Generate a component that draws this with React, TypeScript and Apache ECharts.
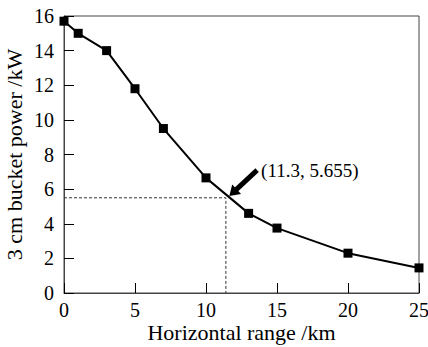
import React, { useEffect, useRef } from "react";
import * as echarts from "echarts";

const rangeKm = [0, 1, 3, 5, 7, 10, 13, 15, 20, 25];
const powerKW = [15.7, 15.0, 14.0, 11.8, 9.5, 6.65, 4.6, 3.75, 2.3, 1.45];
const markX = 11.4;
const markY = 5.5;
const arrowFrom = [13.6, 7.1];
const arrowTo = [11.9, 5.8];
const annotation = "(11.3, 5.655)";
const xTitle = "Horizontal range /km";
const yTitle = "3 cm bucket power /kW";

const FONT = "'Liberation Serif', 'DejaVu Serif', serif";

export default function App() {
  const ref = useRef<HTMLDivElement>(null);
  useEffect(() => {
    const chart = echarts.init(ref.current!, null, { renderer: "svg" });
    chart.setOption({
      animation: false,
      backgroundColor: "#ffffff",
      textStyle: { fontFamily: FONT },
      grid: {
        left: 64,
        right: 9,
        top: 16,
        bottom: 54,
        outerBoundsMode: "none",
        containLabel: false,
        show: true,
        borderColor: "#444",
        borderWidth: 1,
      },
      xAxis: {
        type: "value",
        min: 0,
        max: 25,
        interval: 5,
        name: xTitle,
        nameLocation: "middle",
        nameGap: 28,
        nameMoveOverlap: false,
        nameTextStyle: { fontFamily: FONT, fontSize: 22, color: "#000" },
        axisLine: { lineStyle: { color: "#444", width: 1 } },
        axisTick: { inside: true, length: 10, lineStyle: { color: "#000" } },
        axisLabel: { fontFamily: FONT, fontSize: 20, color: "#000", margin: 7 },
        splitLine: { show: false },
      },
      yAxis: {
        type: "value",
        min: 0,
        max: 16,
        interval: 2,
        name: yTitle,
        nameLocation: "middle",
        nameGap: 39,
        nameMoveOverlap: false,
        nameTextStyle: { fontFamily: FONT, fontSize: 22, color: "#000" },
        axisLine: { show: true, lineStyle: { color: "#444", width: 1 } },
        axisTick: { show: true, inside: true, length: 10, lineStyle: { color: "#000" } },
        axisLabel: { fontFamily: FONT, fontSize: 20, color: "#000", margin: 10 },
        splitLine: { show: false },
      },
      series: [
        {
          type: "line",
          data: [
            [0, markY],
            [markX, markY],
            [markX, 0],
          ],
          symbol: "none",
          lineStyle: { color: "#333", width: 1, type: [3, 2] },
          silent: true,
          z: 1,
        },
        {
          type: "line",
          data: rangeKm.map((x, i) => [x, powerKW[i]]),
          symbol: "rect",
          symbolSize: 9,
          itemStyle: { color: "#000" },
          lineStyle: { color: "#000", width: 2 },
          z: 3,
          markLine: {
            silent: true,
            symbol: ["none", "triangle"],
            symbolSize: [13, 10],
            lineStyle: { color: "#000", width: 5, type: "solid" },
            label: { show: false },
            data: [
              [
                { coord: arrowFrom },
                { coord: arrowTo },
              ],
            ],
          },
          markPoint: {
            silent: true,
            symbol: "circle",
            symbolSize: 0,
            data: [
              {
                coord: arrowFrom,
                label: {
                  show: true,
                  formatter: annotation,
                  position: "right",
                  distance: 4,
                  fontFamily: FONT,
                  fontSize: 19,
                  color: "#000",
                },
              },
            ],
          },
        },
      ],
    });
    return () => chart.dispose();
  }, []);
  return <div ref={ref} style={{ width: 428, height: 347, position: "absolute", left: 0, top: 0 }} />;
}
